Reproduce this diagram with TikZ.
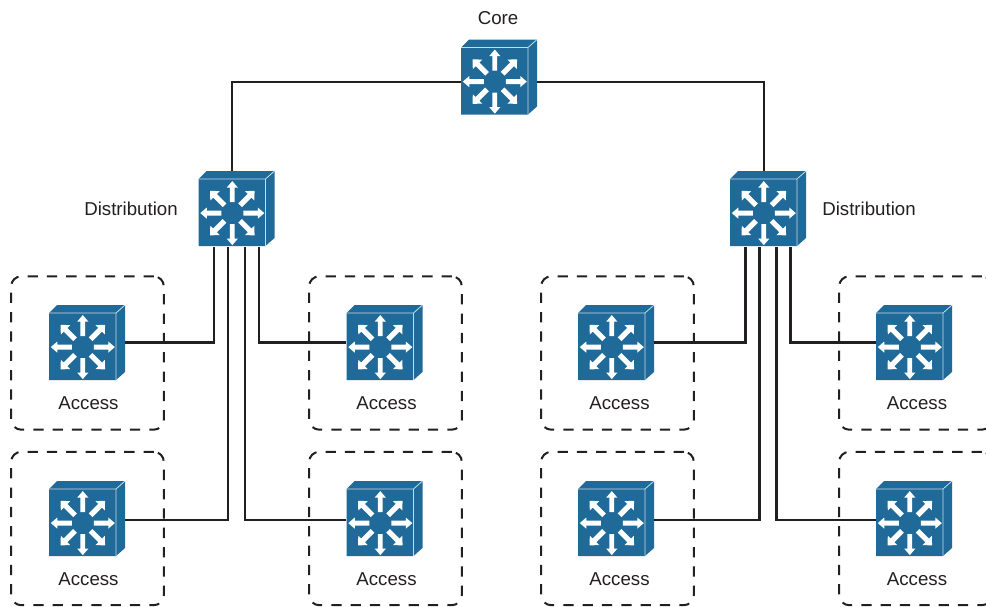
\documentclass[tikz,border=0pt]{standalone}
\usepackage{fontspec}
\setmainfont{Liberation Sans}
\definecolor{swblue}{HTML}{1F6A99}
\definecolor{swedge}{HTML}{C5DCE8}
\definecolor{inktext}{HTML}{231F20}
\tikzset{
  swbox/.style={rectangle, inner sep=0pt, minimum width=57pt, minimum height=56.25pt},
  accbox/.style={rectangle, draw=inktext, line width=1.5pt, dash pattern=on 7.7pt off 6.8pt,
    rounded corners=7.5pt, inner sep=0pt, minimum width=114.5pt, minimum height=115pt},
  lbl/.style={text=inktext, font=\fontsize{14}{16}\selectfont, inner sep=0pt},
  wire/.style={draw=inktext, line width=1.6pt}
}
\newcommand{\swnode}[3]{
\node[swbox] (#1) at (#2,#3) {};
\begin{scope}[shift={(#2,#3)}]
\fill[swblue] (-38,-29.5) -- (-30,-37.5) -- (38,-37.5) -- (38,29.5) -- (29,37.5) -- (-38,37.5) -- cycle;
\draw[swedge, line width=0.6pt] (-38,-29.5) -- (29,-29.5) -- (29,37.5) (29,-29.5) -- (38,-37.5);
\foreach \ang in {0,90,180,270}
  \fill[white, shift={(-4.2,4.6)}, rotate=\ang] (11,-2.4) -- (25.5,-2.4) -- (25.5,-5.6) -- (32,0) -- (25.5,5.6) -- (25.5,2.4) -- (11,2.4) -- cycle;
\foreach \ang in {45,135,225,315}
  \fill[white, shift={(-4.2,4.6)}, rotate=\ang] (11,-2.6) -- (24.5,-2.6) -- (24.5,-6.6) -- (31.5,0) -- (24.5,6.6) -- (24.5,2.6) -- (11,2.6) -- cycle;
\end{scope}
}
\begin{document}
\begin{tikzpicture}[x=0.75pt, y=-0.75pt]
\useasboundingbox (0,0) rectangle (986,607);
\node[accbox] (box0) at (87.5,353) {};
\node[accbox] (box1) at (385.5,353) {};
\node[accbox] (box2) at (87.5,528.5) {};
\node[accbox] (box3) at (385.5,528.5) {};
\node[accbox] (box4) at (617.5,353) {};
\node[accbox] (box5) at (915.5,353) {};
\node[accbox] (box6) at (617.5,528.5) {};
\node[accbox] (box7) at (915.5,528.5) {};
\swnode{core}{499}{77}
\swnode{dist0}{236.5}{208.5}
\swnode{dist1}{768}{208.5}
\swnode{acc0}{87}{342.5}
\swnode{acc1}{384.5}{342.5}
\swnode{acc2}{87}{518.5}
\swnode{acc3}{384.5}{518.5}
\swnode{acc4}{616}{342.5}
\swnode{acc5}{914}{342.5}
\swnode{acc6}{616}{518.5}
\swnode{acc7}{914}{518.5}
\node[lbl] (lblcore) at (498,18) {Core};
\node[lbl] (lbld0) at (131,209) {Distribution};
\node[lbl] (lbld1) at (869,209) {Distribution};
\node[lbl] (lbl0) at (88.5,403) {Access};
\node[lbl] (lbl1) at (386.5,403) {Access};
\node[lbl] (lbl2) at (88.5,579) {Access};
\node[lbl] (lbl3) at (386.5,579) {Access};
\node[lbl] (lbl4) at (619.5,403) {Access};
\node[lbl] (lbl5) at (917,403) {Access};
\node[lbl] (lbl6) at (619.5,579) {Access};
\node[lbl] (lbl7) at (917,579) {Access};
\draw[wire] ([yshift=-3.75pt]core.west) -| ([xshift=-3.4pt]dist0.north);
\draw[wire] ([yshift=-3.75pt]core.east) -| ([xshift=-3pt]dist1.north);
\draw[wire] ([xshift=-16.9pt,yshift=-0.6pt]dist0.south) |- (acc0.east);
\draw[wire] ([xshift=16.9pt,yshift=-0.6pt]dist0.south) |- (acc1.west);
\draw[wire] ([xshift=-6.4pt,yshift=-0.6pt]dist0.south) |- ([yshift=-1.1pt]acc2.east);
\draw[wire] ([xshift=6.4pt,yshift=-0.6pt]dist0.south) |- ([yshift=-1.1pt]acc3.west);
\draw[wire] ([xshift=-16.9pt,yshift=-0.6pt]dist1.south) |- (acc4.east);
\draw[wire] ([xshift=16.9pt,yshift=-0.6pt]dist1.south) |- (acc5.west);
\draw[wire] ([xshift=-6.4pt,yshift=-0.6pt]dist1.south) |- ([yshift=-1.1pt]acc6.east);
\draw[wire] ([xshift=6.4pt,yshift=-0.6pt]dist1.south) |- ([yshift=-1.1pt]acc7.west);
\end{tikzpicture}
\end{document}
